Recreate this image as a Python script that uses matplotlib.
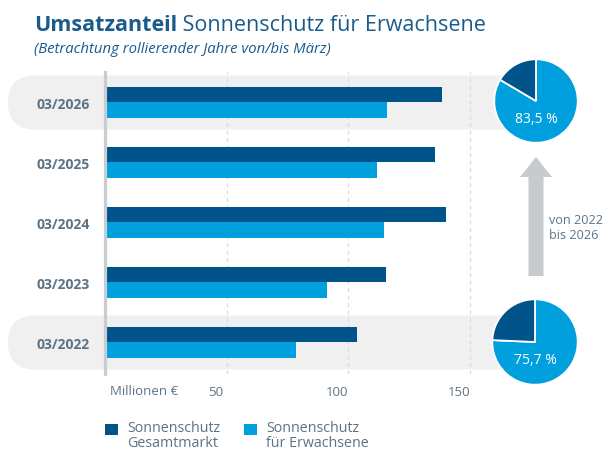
import matplotlib
matplotlib.use("Agg")
import matplotlib.pyplot as plt
from matplotlib.patches import FancyBboxPatch, FancyArrow, Rectangle
from matplotlib.transforms import ScaledTranslation

# data (Millionen EUR, rolling years to March)
periods = ["03/2022", "03/2023", "03/2024", "03/2025", "03/2026"]
gesamtmarkt = [103.4, 115.4, 140.0, 135.7, 138.3]
erwachsene = [78.3, 91.1, 114.5, 111.6, 115.7]
share_labels = ["75,7 %", "83,5 %"]
share_values = [75.7, 83.5]
highlight = ["03/2022", "03/2026"]
x_ticks = [50, 100, 150]
legend_labels = ["Sonnenschutz\nGesamtmarkt", "Sonnenschutz\nfür Erwachsene"]

DARK = "#00548a"
LIGHT = "#00a0de"
BAND = "#f0f0f0"
GREY_TXT = "#5d7384"
TITLE = "#1a5b8c"

plt.rcParams['font.family'] = ['Open Sans', 'DejaVu Sans']

W, H = 606, 452
fig = plt.figure(figsize=(W / 100, H / 100), dpi=100)
inch = fig.dpi_scale_trans


def px(x, y):
    # pixel position (from top-left) -> inches for dpi_scale_trans
    return x / 100, (H - y) / 100


# main bar axes: x=0 at 105px, 160 at ~494px
ax = fig.add_axes([105 / W, (H - 375) / H, (160 * 2.434) / W, (375 - 73) / H])
ax.patch.set_visible(False)
ypos = list(range(len(periods)))
h = 0.26
ax.barh([y + h / 2 for y in ypos], gesamtmarkt, height=h, color=DARK, zorder=3)
ax.barh([y - h / 2 for y in ypos], erwachsene, height=h, color=LIGHT, zorder=3)
ax.set_xlim(0, 160)
ax.set_ylim(-0.525, 4.508)
ax.set_yticks(ypos)
ax.set_yticklabels(periods, fontsize=10, fontweight='bold', color=GREY_TXT)
ax.set_xticks(x_ticks)
ax.set_xticklabels([str(t) for t in x_ticks], fontsize=9.5, color=GREY_TXT)
ax.tick_params(axis='both', length=0)
ax.tick_params(axis='y', pad=11)
ax.tick_params(axis='x', pad=8)
for lab in ax.get_xticklabels():
    lab.set_transform(lab.get_transform() + ScaledTranslation(-0.11, 0, inch))
ax.grid(axis='x', linestyle=(0, (3, 3)), color='#d6dbe0', linewidth=0.9, zorder=0)
for s in ['top', 'right', 'bottom']:
    ax.spines[s].set_visible(False)
ax.spines['left'].set_color('#c8cdd2')
ax.spines['left'].set_linewidth(2.3)
ax.spines['left'].set_zorder(4)

# highlighted rows (rounded grey bands)
for p in highlight:
    i = periods.index(p)
    cy = 343.5 - 60 * i
    x0, y0 = px(8, cy + 27)
    band = FancyBboxPatch((x0, y0), 5.3 - x0, 0.54,
                          boxstyle="round,pad=0,rounding_size=0.27",
                          transform=inch, facecolor=BAND, edgecolor='none', zorder=-5)
    fig.patches.append(band)

fig.text(*px(110, 392), "Millionen €", transform=inch, fontsize=9.5,
         color=GREY_TXT, va='center', ha='left')

# title
t1 = fig.text(*px(34, 31), "Umsatzanteil", transform=inch, fontsize=15.5,
              fontweight='bold', color=TITLE, va='baseline')
ax.annotate(" Sonnenschutz für Erwachsene", xy=(1, 0), xycoords=t1,
            va='bottom', ha='left', fontsize=15.5, color=TITLE, annotation_clip=False)
fig.text(*px(34, 53), "(Betrachtung rollierender Jahre von/bis März)", transform=inch,
         fontsize=10.7, style='italic', color=TITLE, va='baseline')

# pies
pie_pos = [(535, 343, 44), (536, 102, 43)]
for (cx, cy, r), val, lab in zip(pie_pos, share_values, share_labels):
    pa = fig.add_axes([(cx - r) / W, (H - cy - r) / H, 2 * r / W, 2 * r / H])
    pa.pie([val, 100 - val], colors=[LIGHT, DARK], startangle=90, counterclock=False,
           radius=1, wedgeprops=dict(edgecolor='white', linewidth=1.3))
    pa.set_xlim(-1.03, 1.03)
    pa.set_ylim(-1.03, 1.03)
    pa.axis('off')
    pa.text(0, -0.42, lab, ha='center', va='center', color='white', fontsize=10)

# arrow
bx, by = px(536, 277)
arrow = FancyArrow(bx, by, 0, 1.19, width=0.15, head_width=0.32, head_length=0.20,
                   length_includes_head=True, transform=inch,
                   facecolor='#c8cbce', edgecolor='none')
fig.patches.append(arrow)
fig.text(*px(549, 228), "von 2022\nbis 2026", transform=inch, fontsize=9.1,
         color=GREY_TXT, va='center', ha='left', linespacing=1.15)

# legend
for lx, col, lab in [(105, DARK, legend_labels[0]), (244, LIGHT, legend_labels[1])]:
    sx, sy = px(lx, 436)
    fig.patches.append(Rectangle((sx, sy), 0.125, 0.11, transform=inch,
                                 facecolor=col, edgecolor='none'))
    fig.text(*px(lx + 22, 421), lab, transform=inch, fontsize=10.3, color=GREY_TXT,
             va='top', ha='left', linespacing=0.98)

fig.savefig("out.png", dpi=100)
